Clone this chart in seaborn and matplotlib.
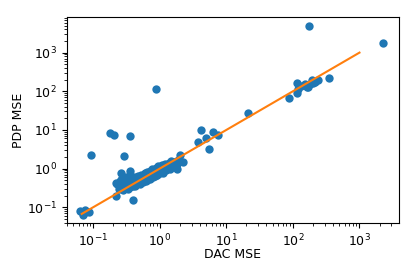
import matplotlib
matplotlib.use("Agg")
import matplotlib.pyplot as plt
import seaborn as sns
import pandas as pd

# DAC MSE (x) and PDP MSE (y) values
dac_mse = [
    # outliers / scattered
    0.87, 0.18, 0.205, 0.36, 0.092, 0.29, 0.35, 0.26, 0.22, 0.22, 0.40,
    0.064, 0.069, 0.076, 0.087, 0.072,
    4.2, 3.7, 4.9, 6.2, 7.5, 5.5, 2.0, 2.2, 1.8, 21.0,
    172.0, 2230.0, 86.0, 114.0, 114.0, 120.0,
    151.0, 170.0, 191.0, 214.0, 240.0, 180.0, 202.0, 160.0, 352.0, 130.0,
    # dense band
    0.24, 0.25, 0.26, 0.27, 0.28, 0.29, 0.30, 0.31, 0.32, 0.33, 0.34, 0.35,
    0.36, 0.37, 0.38, 0.39, 0.40, 0.42, 0.43, 0.44, 0.45, 0.46, 0.48, 0.50,
    0.51, 0.52, 0.54, 0.55, 0.57, 0.58, 0.60, 0.62, 0.63, 0.65, 0.67, 0.68,
    0.70, 0.72, 0.74, 0.75, 0.77, 0.79, 0.80, 0.82, 0.84, 0.86, 0.88, 0.90,
    0.92, 0.95, 0.97, 1.00, 1.02, 1.05, 1.08, 1.10, 1.15, 1.20, 1.25, 1.30,
    1.35, 1.40, 1.50, 1.60, 1.70, 1.80, 1.90, 2.00, 0.28, 0.33, 0.50, 0.65,
    0.85, 1.10, 0.75, 0.95, 1.20, 0.60,
    0.23, 0.25, 0.27, 0.30, 0.34, 0.38, 0.41, 0.44, 0.47, 0.53, 0.56, 0.59,
    0.64, 0.69, 0.73, 0.78, 0.83, 0.89, 0.93, 0.98, 1.04, 1.12, 1.18, 1.28,
    1.38, 1.45, 1.55, 1.65, 0.36, 0.42, 0.48, 0.55, 0.62, 0.70, 0.80, 0.90,
    1.00, 1.15, 1.30, 0.26, 0.31, 0.46, 0.58, 0.72, 0.88, 1.06, 1.24, 1.45,
]
pdp_mse = [
    116.0, 8.5, 7.2, 7.0, 2.2, 2.05, 0.84, 0.76, 0.43, 0.196, 0.158,
    0.078, 0.063, 0.085, 0.077, 0.070,
    10.0, 5.0, 6.2, 8.7, 7.6, 3.2, 2.3, 1.45, 0.98, 27.0,
    4900.0, 1810.0, 68.0, 91.0, 168.0, 116.0,
    156.0, 132.0, 199.0, 172.0, 190.0, 150.0, 162.0, 128.0, 218.0, 140.0,
    0.30, 0.38, 0.33, 0.45, 0.36, 0.52, 0.40, 0.34, 0.47, 0.42, 0.38, 0.55,
    0.44, 0.40, 0.50, 0.36, 0.46, 0.52, 0.41, 0.58, 0.48, 0.43, 0.55, 0.50,
    0.62, 0.45, 0.58, 0.52, 0.66, 0.50, 0.60, 0.55, 0.70, 0.62, 0.58, 0.75,
    0.66, 0.60, 0.80, 0.70, 0.64, 0.85, 0.75, 0.68, 0.90, 0.80, 0.72, 0.95,
    0.85, 0.78, 1.00, 0.90, 0.82, 1.05, 0.95, 0.85, 1.10, 1.00, 0.90, 1.20,
    1.05, 0.95, 1.30, 1.15, 1.50, 1.30, 1.70, 1.55, 0.28, 0.30, 0.40, 0.52,
    0.65, 0.75, 0.95, 1.15, 1.35, 0.78,
    0.40, 0.48, 0.56, 0.46, 0.50, 0.58, 0.62, 0.50, 0.66, 0.70, 0.60, 0.72,
    0.82, 0.74, 0.88, 0.92, 0.80, 1.02, 0.92, 1.10, 1.15, 1.05, 1.22, 1.12,
    1.40, 1.25, 1.45, 1.35, 0.34, 0.36, 0.44, 0.44, 0.48, 0.54, 0.62, 0.70,
    0.78, 0.92, 1.02, 0.50, 0.60, 0.62, 0.68, 0.88, 0.98, 1.25, 1.10, 1.60,
]
line_x = [0.067, 1000.0]
line_y = [0.067, 1000.0]

df = pd.DataFrame({"DAC MSE": dac_mse, "PDP MSE": pdp_mse})

plt.rcParams["font.size"] = 9
fig = plt.figure(figsize=(4.15, 2.77), dpi=100)
ax = fig.add_axes([0.161, 0.195, 0.8, 0.744])
sns.scatterplot(data=df, x="DAC MSE", y="PDP MSE", ax=ax, color="C0",
                s=36, linewidth=0, zorder=2)
ax.plot(line_x, line_y, color="C1", zorder=3)
ax.set_xscale("log")
ax.set_yscale("log")
ax.set_xlim(0.040, 3900)
ax.set_ylim(0.039, 8400)
ax.set_xlabel("DAC MSE", labelpad=-1)
ax.set_ylabel("PDP MSE", labelpad=1.5)
fig.savefig("out.png", dpi=100)
